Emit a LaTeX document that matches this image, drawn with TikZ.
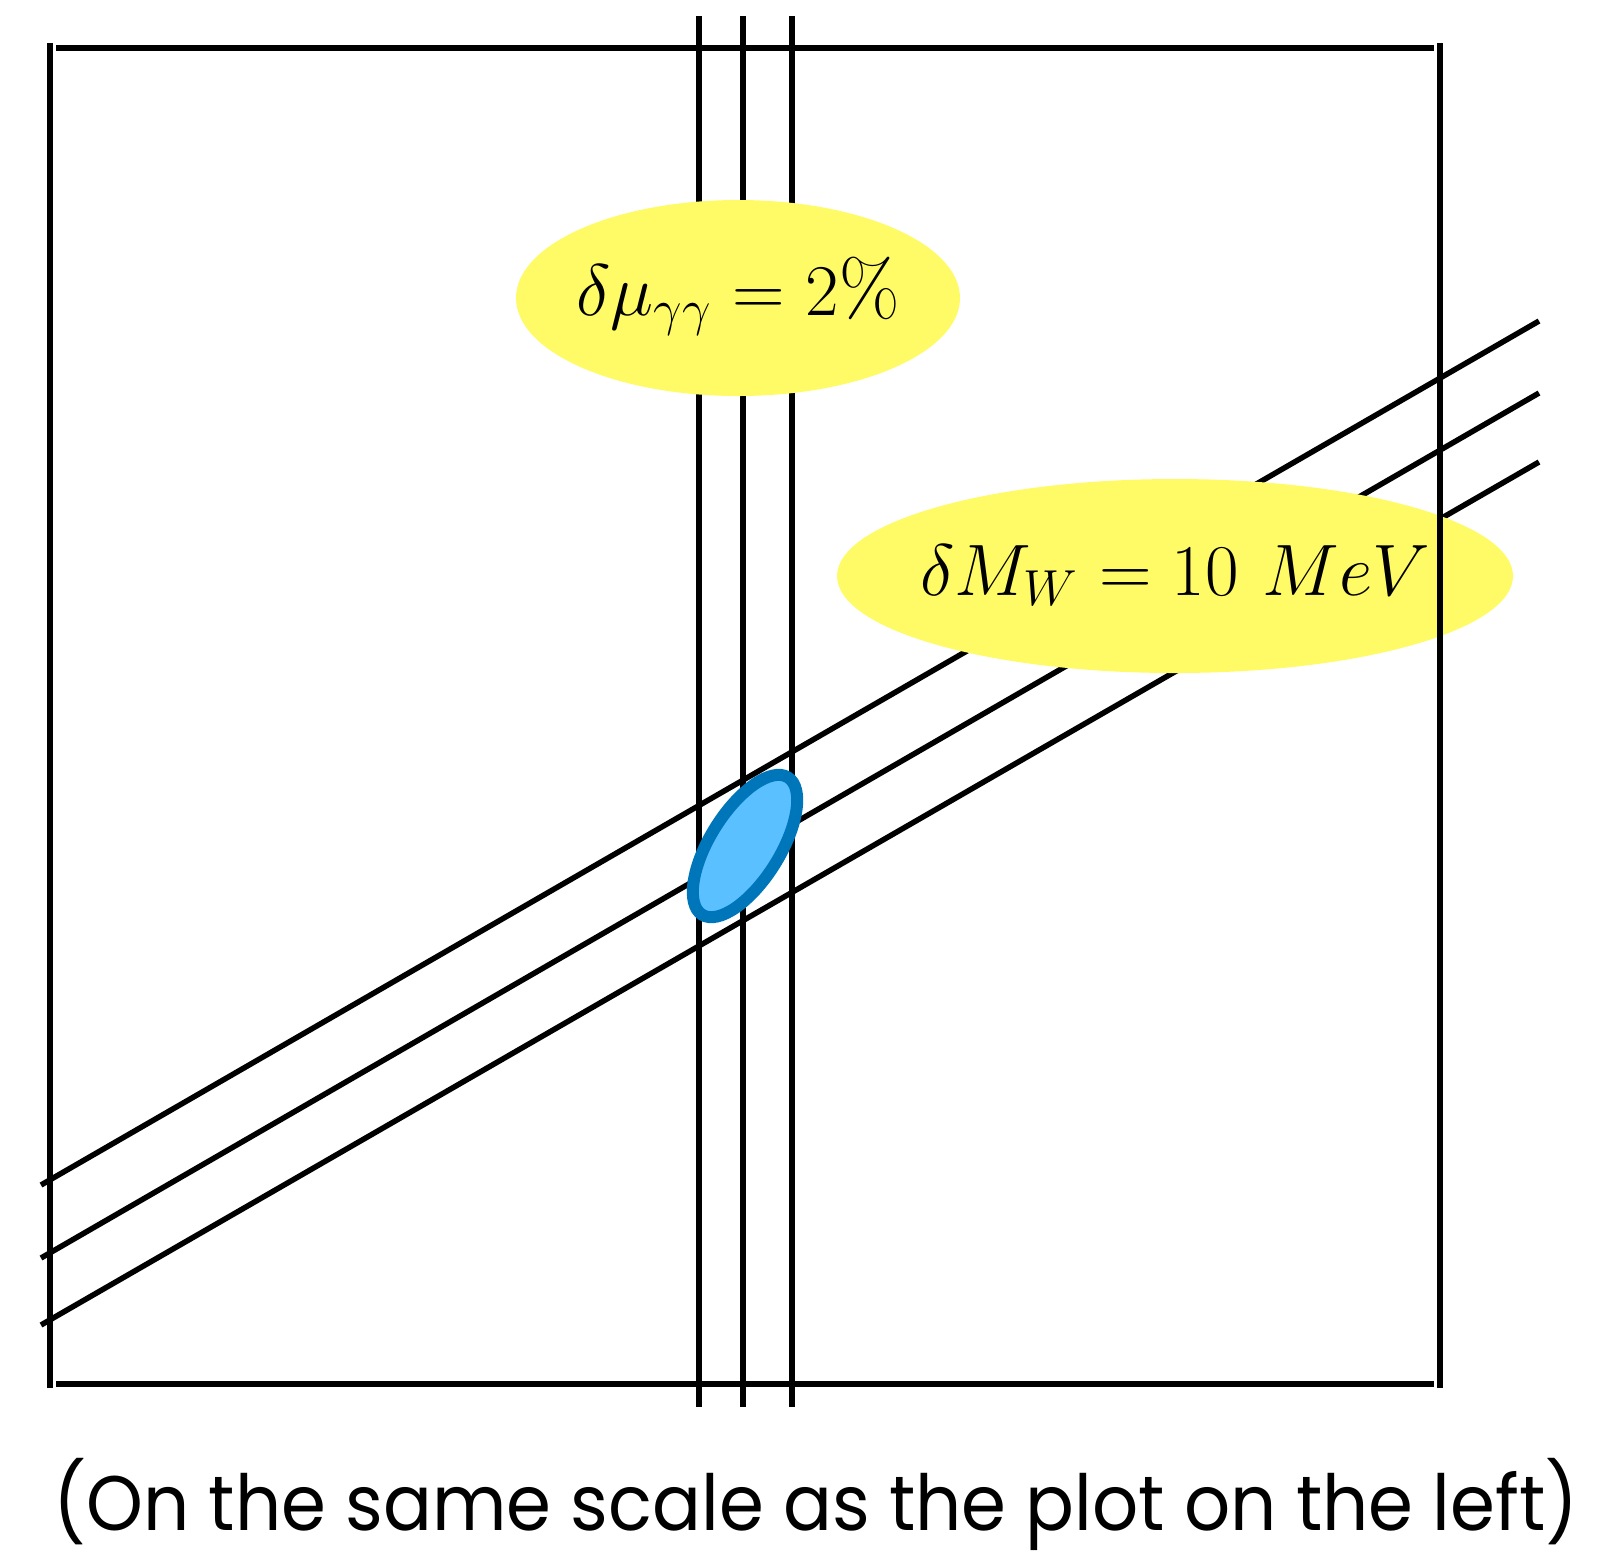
\documentclass[tikz,border=0pt]{standalone}
\usepackage{amsmath}
\usepackage{fontspec}
\usepackage{tikz}
\usetikzlibrary{
  shapes.geometric,
  positioning,
  calc
}
\newfontfamily\captionfont{Poppins}
\definecolor{bandcolor}{RGB}{0, 0, 0}
\definecolor{blobcolor}{RGB}{255, 251, 102}
\definecolor{regionfill}{RGB}{90, 192, 255}
\definecolor{regionedge}{RGB}{0, 118, 186}
\tikzset{
bandline/.style={
  draw=bandcolor,
  line width=0.55mm
},
frameline/.style={
  draw=black,
  line width=0.55mm
},
labelblob/.style={
  ellipse,
  fill=blobcolor,
  inner sep=0pt
},
valuetext/.style={
  font=\fontsize{22.2}{26}\selectfont,
  inner sep=0pt,
  anchor=base
},
region/.style={
  fill=regionfill,
  draw=regionedge,
  line width=1.2mm
},
captiontext/.style={
  font=\captionfont\fontsize{22}{26}\selectfont,
  inner sep=0pt,
  anchor=base west,
  xscale=0.935
}
}
\begin{document}
\begin{tikzpicture}[x=0.1mm,y=-0.1mm]
        \useasboundingbox (0,0) rectangle (1609,1556);
        % vertical band (mu_gamma gamma)
        \foreach \xv in {699,743,792}
          \draw[bandline] (\xv,16) -- (\xv,1407);
        % diagonal band (M_W)
        \foreach \ya/\yb in {1185/321,1258/393,1325/462}
          \draw[bandline] (41,\ya) -- (1539,\yb);
        % labels
        \node[labelblob, minimum width=44.4mm, minimum height=19.6mm] (mublob) at (738,298) {};
        \node[valuetext] (mutext) at ([yshift=-1.7mm]mublob.center) {$\delta\mu_{\gamma\gamma} = 2\%$};
        \node[labelblob, minimum width=67.6mm, minimum height=19.4mm] (mwblob) at (1175,576) {};
        \node[valuetext] (mwtext) at ([yshift=-1.9mm]mwblob.center) {$\delta M_W = 10\ MeV$};
        % frame
        \draw[frameline] (50,43) -- (50,1388);
        \draw[frameline] (1440,43) -- (1440,1388);
        \draw[frameline] (56,48) -- (1434,48);
        \draw[frameline] (56,1384) -- (1434,1384);
        % allowed region
        \draw[region] (745,846) ellipse [x radius=81, y radius=35, rotate=58];
        \node[captiontext] (caption) at (53,1530) {(On the same scale as the plot on the left)};
      \end{tikzpicture}
\end{document}
